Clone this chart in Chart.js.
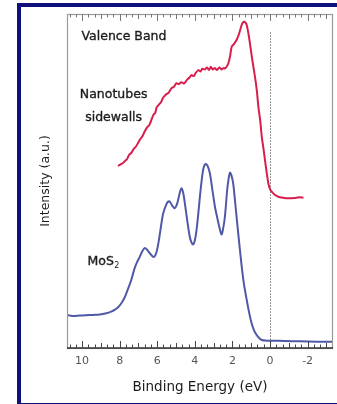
<!DOCTYPE html>
<html>
<head>
<meta charset="utf-8">
<script src="https://cdn.jsdelivr.net/npm/chart.js@4"></script>
<style>
  html, body { margin: 0; padding: 0; background: #fff; overflow: hidden; }
  #wrap { position: relative; width: 337px; height: 404px; }
  #frame { position: absolute; left: 17px; top: 3px; width: 340px; height: 404px; border: 4px solid #10107c; box-sizing: border-box; }
  #c { position: absolute; left: 0; top: 0; }
</style>
</head>
<body>
<div id="wrap">
  <div id="frame"></div>
  <canvas id="c" width="337" height="404"></canvas>
</div>
<script>
// binding energy (eV) and intensity (a.u.) for the nanotube sidewall valence band
var tubeEnergy = [8.09, 7.95, 7.82, 7.73, 7.6, 7.5, 7.38, 7.25, 7.12, 7.02, 6.9, 6.78, 6.67, 6.55, 6.42, 6.31, 6.2, 6.1, 6.04, 5.92,
  5.8, 5.69, 5.55, 5.4, 5.24, 5.1, 4.98, 4.85, 4.72, 4.6, 4.53, 4.4, 4.28, 4.18, 4.05, 3.95, 3.82, 3.7, 3.6, 3.47,
  3.35, 3.25, 3.15, 3.05, 2.93, 2.82, 2.7, 2.58, 2.48, 2.4, 2.3, 2.22, 2.12, 2.04, 1.92, 1.78, 1.65, 1.51, 1.44, 1.37,
  1.3, 1.24, 1.16, 1.07, 0.95, 0.8, 0.7, 0.62, 0.52, 0.44, 0.35, 0.27, 0.18, 0.09, 0.0, -0.09, -0.25, -0.44, -0.7, -0.98,
  -1.3, -1.55, -1.78];
var tubeIntensity = [54.5, 55.0, 55.4, 55.9, 56.6, 57.8, 58.4, 59.6, 60.4, 61.4, 62.6, 63.5, 64.8, 66.0, 66.8, 68.3, 69.8, 70.5, 71.9, 72.8,
  73.6, 74.9, 75.8, 76.4, 77.8, 78.3, 79.3, 79.0, 79.6, 79.2, 79.4, 80.4, 81.0, 81.7, 81.4, 82.4, 83.2, 82.8, 83.6, 83.4,
  84.0, 83.2, 84.2, 83.4, 83.8, 83.2, 84.0, 83.4, 83.8, 83.7, 84.3, 85.2, 87.5, 90.2, 91.0, 92.2, 94.0, 96.7, 97.5, 97.7,
  97.4, 96.7, 94.5, 91.3, 86.5, 81.2, 77.0, 72.2, 68.0, 63.3, 59.8, 56.3, 52.6, 49.3, 47.6, 46.8, 45.9, 45.3, 45.0, 44.8,
  44.9, 45.1, 45.0];

// MoS2 reference spectrum
var mosEnergy = [10.84, 10.5, 10.13, 9.8, 9.42, 9.05, 8.71, 8.45, 8.27, 8.08, 7.91, 7.76, 7.64, 7.5, 7.38, 7.2, 7.05, 6.93, 6.8, 6.67,
  6.55, 6.4, 6.22, 6.1, 6.01, 5.92, 5.83, 5.69, 5.51, 5.4, 5.33, 5.2, 5.07, 4.98, 4.89, 4.8, 4.71, 4.62, 4.53, 4.4,
  4.27, 4.18, 4.09, 4.0, 3.91, 3.82, 3.73, 3.64, 3.56, 3.48, 3.41, 3.32, 3.2, 3.07, 2.93, 2.8, 2.7, 2.58, 2.5, 2.4,
  2.28, 2.2, 2.13, 2.05, 1.96, 1.87, 1.78, 1.6, 1.42, 1.24, 1.1, 0.98, 0.85, 0.71, 0.58, 0.44, 0.2, 0, -0.8, -1.6,
  -2.5, -3.36];
var mosIntensity = [9.9, 9.6, 9.7, 9.8, 9.9, 10.0, 10.4, 10.9, 11.4, 12.2, 13.4, 14.8, 16.4, 18.5, 20.4, 23.9, 26.0, 27.3, 28.9, 29.9,
  29.5, 28.4, 27.3, 27.8, 29.3, 32.0, 35.3, 40.1, 43.1, 43.9, 43.8, 42.6, 41.8, 42.6, 44.3, 46.5, 47.8, 46.5, 43.3, 38.0,
  33.3, 31.6, 31.0, 32.2, 35.3, 40.0, 45.3, 50.0, 53.3, 54.8, 55.1, 54.5, 52.3, 47.5, 42.3, 38.8, 36.3, 34.0, 35.6, 39.3,
  47.3, 50.8, 52.5, 51.6, 49.3, 44.5, 39.3, 29.3, 20.4, 14.4, 10.3, 7.4, 5.3, 3.9, 3.0, 2.4, 2.2, 2.2, 2.1, 2.0,
  1.9, 1.9];

var xTickLabels = [10, 8, 6, 4, 2, 0, -2];
var fermiLevel = 0;

function pts(xs, ys) {
  return xs.map(function (x, i) { return { x: x, y: ys[i] }; });
}

// text notes placed in data coordinates
var notes = [
  { text: 'Valence Band', x: 10.03, y: 93.1, align: 'left' },
  { text: 'Nanotubes', x: 8.32, y: 75.7, align: 'center' },
  { text: 'sidewalls', x: 8.32, y: 68.9, align: 'center' },
  { text: 'MoS', sub: '2', x: 9.71, y: 25.7, align: 'left' }
];

var framePlugin = {
  id: 'frameTicks',
  beforeDatasetsDraw: function (chart) {
    var ctx = chart.ctx, a = chart.chartArea, xs = chart.scales.x, ys = chart.scales.y;
    ctx.save();
    // dotted Fermi level line
    var fx = Math.round(xs.getPixelForValue(fermiLevel)) + 0.5;
    ctx.strokeStyle = '#777';
    ctx.lineWidth = 1;
    ctx.setLineDash([1.5, 1.5]);
    ctx.beginPath();
    ctx.moveTo(fx, ys.getPixelForValue(94.5));
    ctx.lineTo(fx, a.bottom);
    ctx.stroke();
    ctx.restore();
  },
  afterDatasetsDraw: function (chart) {
    var ctx = chart.ctx, a = chart.chartArea, xs = chart.scales.x, ys = chart.scales.y;
    ctx.save();
    // box
    ctx.strokeStyle = '#9a9a9a';
    ctx.lineWidth = 1.2;
    ctx.strokeRect(a.left + 0.5, a.top + 0.5, a.right - a.left - 1, a.bottom - a.top);
    ctx.strokeStyle = '#333';
    ctx.lineWidth = 1.6;
    ctx.beginPath();
    ctx.moveTo(a.left, a.bottom);
    ctx.lineTo(a.right, a.bottom);
    ctx.stroke();
    // inward tick marks every 1/3 eV, top and bottom
    for (var k = -10; k <= 32; k++) {
      var v = k / 3;
      var px = xs.getPixelForValue(v);
      if (px < a.left + 1 || px > a.right - 1) continue;
      var len = 3.5;
      if (k % 3 === 0) len = (k / 3) % 2 === 0 ? 7 : 5;
      px = Math.round(px) + 0.5;
      ctx.lineWidth = 1;
      ctx.strokeStyle = '#444';
      ctx.beginPath();
      ctx.moveTo(px, a.bottom);
      ctx.lineTo(px, a.bottom - len);
      ctx.stroke();
      ctx.strokeStyle = '#777';
      ctx.beginPath();
      ctx.moveTo(px, a.top);
      ctx.lineTo(px, a.top + len);
      ctx.stroke();
    }
    // notes, with a faint stroke to thicken the glyphs
    ctx.fillStyle = '#1c1c1c';
    ctx.strokeStyle = '#1c1c1c';
    ctx.lineWidth = 0.35;
    ctx.textBaseline = 'middle';
    notes.forEach(function (n) {
      var x = xs.getPixelForValue(n.x), y = ys.getPixelForValue(n.y);
      ctx.font = '12.5px "DejaVu Sans"';
      ctx.textAlign = n.align;
      ctx.fillText(n.text, x, y);
      ctx.strokeText(n.text, x, y);
      if (n.sub) {
        var w = ctx.measureText(n.text).width;
        ctx.font = '8px "DejaVu Sans"';
        ctx.textAlign = 'left';
        ctx.fillText(n.sub, x + w + 0.5, y + 4);
      }
    });
    ctx.restore();
  }
};

new Chart(document.getElementById('c'), {
  type: 'line',
  data: {
    datasets: [
      {
        label: 'Nanotubes sidewalls',
        data: pts(tubeEnergy, tubeIntensity),
        borderColor: '#d81e4c',
        borderWidth: 2,
        pointRadius: 0,
        tension: 0.25,
        fill: false
      },
      {
        label: 'MoS2',
        data: pts(mosEnergy, mosIntensity),
        borderColor: '#5058a8',
        borderWidth: 2,
        pointRadius: 0,
        tension: 0.3,
        fill: false
      }
    ]
  },
  options: {
    responsive: false,
    animation: false,
    layout: { padding: { left: 18, top: 14, right: 4, bottom: 4.9 } },
    plugins: { legend: { display: false }, tooltip: { enabled: false } },
    scales: {
      x: {
        type: 'linear',
        reverse: true,
        min: -3.35,
        max: 10.8,
        afterBuildTicks: function (scale) {
          scale.ticks = xTickLabels.map(function (v) { return { value: v }; });
        },
        grid: { display: false, drawTicks: false },
        border: { display: false },
        ticks: {
          padding: 7,
          autoSkip: false,
          maxRotation: 0,
          color: '#555',
          font: { family: 'DejaVu Sans', size: 11 },
          callback: function (v) { return String(v); }
        },
        title: {
          display: true,
          text: 'Binding Energy (eV)',
          color: '#1c1c1c',
          font: { family: 'DejaVu Sans', size: 13.5 },
          padding: { top: 3.7, bottom: 4 }
        }
      },
      y: {
        min: 0,
        max: 100,
        grid: { display: false, drawTicks: false },
        border: { display: false },
        ticks: { display: false },
        title: {
          display: true,
          text: 'Intensity (a.u.)',
          color: '#1c1c1c',
          font: { family: 'DejaVu Sans', size: 12.5 },
          padding: { top: 19.8, bottom: 14.2 }
        }
      }
    }
  },
  plugins: [framePlugin]
});
</script>
</body>
</html>
